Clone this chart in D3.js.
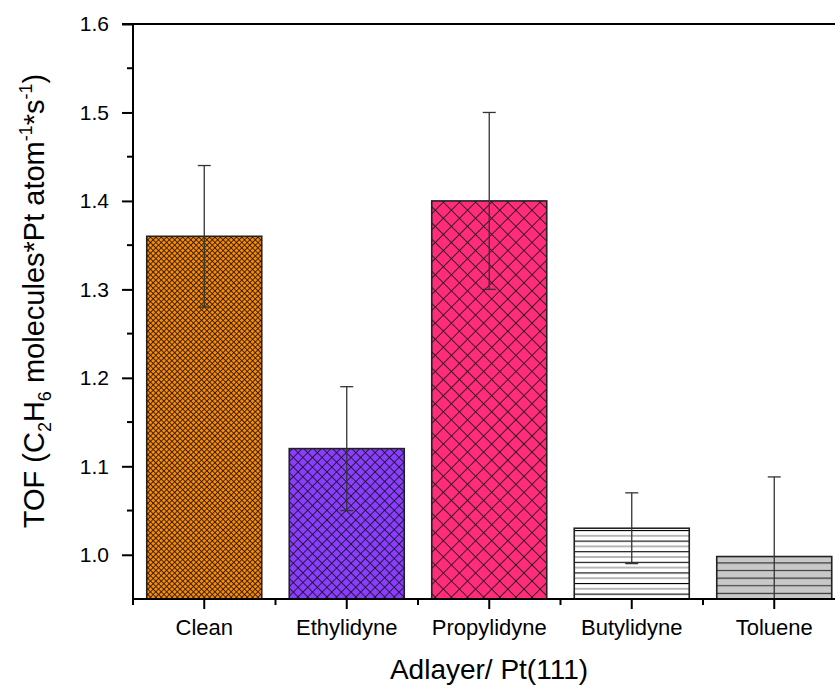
<!DOCTYPE html>
<html>
<head>
<meta charset="utf-8">
<script src="https://cdn.jsdelivr.net/npm/d3@7"></script>
<style>
  body{margin:0;background:#fff;}
  text{font-family:"Liberation Sans",Arial,sans-serif;fill:#000;}
  .axis path,.axis line{stroke:#000;stroke-width:2px;}
</style>
</head>
<body>
<script>
// data
var categories = ['Clean','Ethylidyne','Propylidyne','Butylidyne','Toluene'];
var tof = [1.36,1.12,1.40,1.03,0.998];
var tofErr = [0.08,0.07,0.10,0.04,0.09];
var yTicks = [1.0,1.1,1.2,1.3,1.4,1.5,1.6];
var yMinor = [1.05,1.15,1.25,1.35,1.45,1.55];
var fills = ['#ff8a00','#8b3dff','#ff2b7b','#ffffff','#c8c8c8'];

var W = 835, H = 687;
var padLeft = 133, padTop = 24, padBottom = 599;

var svg = d3.select('body').append('svg').attr('width',W).attr('height',H);
var defs = svg.append('defs');

// hatch patterns
function crossHatch(id,color,s){
  var p = defs.append('pattern').attr('id',id).attr('patternUnits','userSpaceOnUse')
    .attr('width',s).attr('height',s).attr('patternTransform','rotate(45)');
  p.append('rect').attr('width',s).attr('height',s).attr('fill',color);
  p.append('line').attr('x1',0).attr('x2',s).attr('y1',0).attr('y2',0)
    .style('stroke','#111').style('stroke-width',1.6);
  p.append('line').attr('x1',0).attr('x2',0).attr('y1',0).attr('y2',s)
    .style('stroke','#111').style('stroke-width',1.6);
}
function hLines(id,color,s,c1,c2){
  var p = defs.append('pattern').attr('id',id).attr('patternUnits','userSpaceOnUse')
    .attr('width',20).attr('height',s*2);
  p.append('rect').attr('width',20).attr('height',s*2).attr('fill',color);
  p.append('line').attr('x1',0).attr('x2',20).attr('y1',0.5).attr('y2',0.5)
    .style('stroke',c1).style('stroke-width',1.2);
  p.append('line').attr('x1',0).attr('x2',20).attr('y1',s+0.5).attr('y2',s+0.5)
    .style('stroke',c2).style('stroke-width',1.2);
}
crossHatch('pat0',fills[0],3.8);
crossHatch('pat1',fills[1],6.8);
crossHatch('pat2',fills[2],11.4);
hLines('pat3',fills[3],5.3,'#000','#888');
hLines('pat4',fills[4],7.6,'#222','#444');

// scales
var x = d3.scaleBand().domain(categories).range([padLeft,padLeft+712.5])
  .paddingInner(0.193).paddingOuter(0.0965);
var y = d3.scaleLinear().domain([0.95,1.6]).range([padBottom,padTop]);

defs.append('clipPath').attr('id','plotClip').append('rect')
  .attr('x',padLeft).attr('y',padTop).attr('width',W-padLeft).attr('height',padBottom-padTop);

var plot = svg.append('g').attr('clip-path','url(#plotClip)');

// bars
plot.selectAll('rect.bar').data(categories).enter()
  .append('rect').attr('class','bar')
  .attr('x',function(d){return x(d);})
  .attr('width',x.bandwidth())
  .attr('y',function(d,i){return y(tof[i]);})
  .attr('height',function(d,i){return y(0.95)-y(tof[i]);})
  .attr('fill',function(d,i){return 'url(#pat'+i+')';})
  .style('stroke','#222').style('stroke-width',1.6);

// error bars
var eb = plot.selectAll('g.err').data(categories).enter().append('g')
  .attr('transform',function(d){return 'translate('+(x(d)+x.bandwidth()/2)+',0)';});
eb.append('line')
  .attr('x1',0).attr('x2',0)
  .attr('y1',function(d,i){return y(tof[i]+tofErr[i]);})
  .attr('y2',function(d,i){return y(tof[i]-tofErr[i]);})
  .style('stroke','#333').style('stroke-width',1.3);
eb.append('line')
  .attr('x1',-6.5).attr('x2',6.5)
  .attr('y1',function(d,i){return y(tof[i]+tofErr[i]);})
  .attr('y2',function(d,i){return y(tof[i]+tofErr[i]);})
  .style('stroke','#333').style('stroke-width',1.3);
eb.append('line')
  .attr('x1',-6.5).attr('x2',6.5)
  .attr('y1',function(d,i){return y(tof[i]-tofErr[i]);})
  .attr('y2',function(d,i){return y(tof[i]-tofErr[i]);})
  .style('stroke','#333').style('stroke-width',1.3);

// y axis
var yAxis = d3.axisLeft(y).tickValues(yTicks).tickSize(11).tickPadding(13)
  .tickFormat(d3.format('.1f'));
var gy = svg.append('g').attr('class','axis').attr('transform','translate('+padLeft+',0)').call(yAxis);
gy.select('.domain').remove();
gy.append('line').attr('x1',0).attr('x2',0).attr('y1',padTop).attr('y2',padBottom+1);
gy.selectAll('text').style('font-size','21px');
gy.selectAll('.minor').data(yMinor).enter().append('line').attr('class','minor')
  .attr('x1',-6).attr('x2',0)
  .attr('y1',function(d){return y(d);}).attr('y2',function(d){return y(d);});

// top border
svg.append('line').attr('x1',padLeft-11).attr('x2',W).attr('y1',padTop).attr('y2',padTop)
  .style('stroke','#000').style('stroke-width',2);

// x axis
var xAxis = d3.axisBottom(x).tickSize(10).tickPadding(10);
var gx = svg.append('g').attr('class','axis').attr('transform','translate(0,'+padBottom+')').call(xAxis);
gx.select('.domain').remove();
gx.append('line').attr('x1',padLeft-1).attr('x2',W).attr('y1',0).attr('y2',0);
gx.selectAll('text').style('font-size','22px');
var xMinor = categories.map(function(d){return x(d)-x.step()*x.paddingInner()/2;});
gx.selectAll('.minor').data(xMinor).enter().append('line').attr('class','minor')
  .attr('x1',function(d){return d;}).attr('x2',function(d){return d;})
  .attr('y1',0).attr('y2',6);

// axis titles
svg.append('text').attr('x',489).attr('y',679).attr('text-anchor','middle')
  .style('font-size','28px').text('Adlayer/ Pt(111)');

var yt = svg.append('text').attr('transform','translate(44,301) rotate(-90)')
  .attr('text-anchor','middle').style('font-size','29px');
yt.append('tspan').text('TOF (C');
yt.append('tspan').attr('dy',7).style('font-size','18px').text('2');
yt.append('tspan').attr('dy',-7).text('H');
yt.append('tspan').attr('dy',7).style('font-size','18px').text('6');
yt.append('tspan').attr('dy',-7).text(' molecules*Pt atom');
yt.append('tspan').attr('dy',-12).style('font-size','18px').text('-1');
yt.append('tspan').attr('dy',12).text('*s');
yt.append('tspan').attr('dy',-12).style('font-size','18px').text('-1');
yt.append('tspan').attr('dy',12).text(')');
</script>
</body>
</html>
